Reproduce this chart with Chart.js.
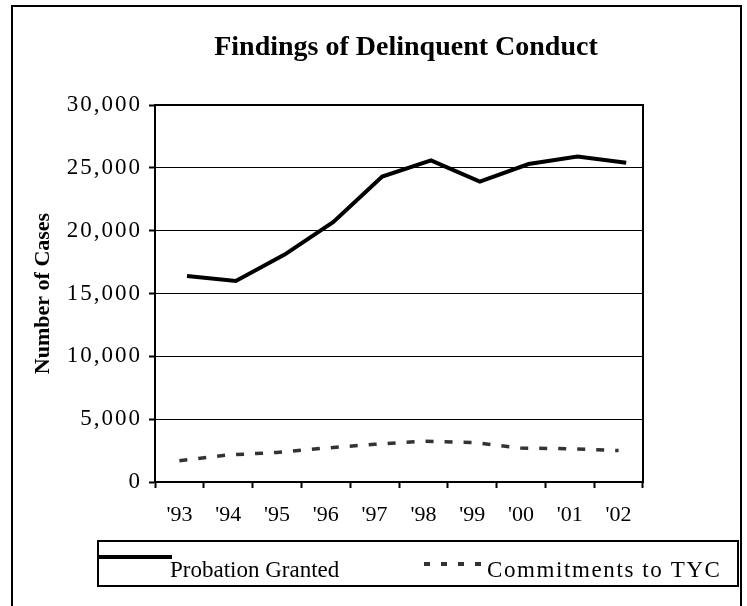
<!DOCTYPE html>
<html lang="en">
<head>
    <meta charset="UTF-8">
    <title>Findings of Delinquent Conduct</title>
    <script src="https://cdn.jsdelivr.net/npm/chart.js"></script>
    <style>
        html, body { margin: 0; padding: 0; background: #fff; }
        .chart-container { position: relative; width: 747px; height: 606px; }
    </style>
</head>
<body>
    <div class="chart-container">
        <canvas id="delinquentChart"></canvas>
    </div>

    <script>
        // --- chart data ---
        const chartTitle = 'Findings of Delinquent Conduct';
        const yAxisTitle = 'Number of Cases';
        const years = ["'93", "'94", "'95", "'96", "'97", "'98", "'99", "'00", "'01", "'02"];
        const probationGranted = [16400, 16000, 18100, 20700, 24300, 25600, 23900, 25300, 25900, 25400];
        const commitmentsToTYC = [1700, 2150, 2350, 2700, 3000, 3250, 3150, 2700, 2650, 2500];
        const yMax = 30000;
        const yStep = 5000;

        const serif = '"Liberation Serif", "Times New Roman", serif';

        // the solid line sits a bit right of the category centres in the original,
        // so it uses a hidden linear axis over the same area
        const toPoints = values => values.map((v, i) => ({ x: i, y: v }));

        // frame, plot border, title and boxed legend
        const decorPlugin = {
            id: 'decor',
            afterDraw(chart) {
                const ctx = chart.ctx;
                const area = chart.chartArea;
                ctx.save();

                // outer frame
                ctx.strokeStyle = '#000';
                ctx.lineWidth = 2;
                ctx.strokeRect(12, 6, 729, 700);

                // plot area border
                ctx.strokeRect(area.left, area.top, area.right - area.left, area.bottom - area.top);

                // title
                ctx.fillStyle = '#000';
                ctx.font = 'bold 28px ' + serif;
                ctx.textAlign = 'center';
                ctx.textBaseline = 'alphabetic';
                ctx.fillText(chartTitle, 406, 55);

                // legend box
                ctx.lineWidth = 2;
                ctx.strokeRect(98, 541, 640, 45);

                const slots = [
                    { x0: 97, x1: 172, ly: 557, tx: 170, dash: [], spacing: '0px' },
                    { x0: 424, x1: 484, ly: 564, tx: 487, dash: [6, 11], spacing: '1.6px' }
                ];
                ctx.font = '23px ' + serif;
                ctx.textAlign = 'left';
                chart.data.datasets.forEach((ds, i) => {
                    const s = slots[i];
                    ctx.beginPath();
                    ctx.strokeStyle = ds.borderColor;
                    ctx.lineWidth = 4;
                    ctx.setLineDash(s.dash);
                    ctx.moveTo(s.x0, s.ly);
                    ctx.lineTo(s.x1, s.ly);
                    ctx.stroke();
                    ctx.setLineDash([]);
                    ctx.letterSpacing = s.spacing;
                    ctx.fillText(ds.label, s.tx, 577);
                });
                ctx.letterSpacing = '0px';
                ctx.restore();
            }
        };

        const ctx = document.getElementById('delinquentChart').getContext('2d');
        new Chart(ctx, {
            type: 'line',
            data: {
                labels: years,
                datasets: [
                    {
                        label: 'Probation Granted',
                        data: toPoints(probationGranted),
                        xAxisID: 'xd',
                        borderColor: '#000000',
                        borderWidth: 4,
                        pointRadius: 0,
                        tension: 0,
                        fill: false
                    },
                    {
                        label: 'Commitments to TYC',
                        data: commitmentsToTYC,
                        xAxisID: 'x',
                        borderColor: '#333333',
                        borderWidth: 3.5,
                        borderDash: [8, 11],
                        pointRadius: 0,
                        tension: 0,
                        fill: false
                    }
                ]
            },
            options: {
                responsive: true,
                maintainAspectRatio: false,
                animation: false,
                locale: 'en-US',
                layout: { padding: { left: 0, right: 104, top: 105, bottom: 84 } },
                plugins: {
                    legend: { display: false },
                    title: { display: false },
                    tooltip: { enabled: false }
                },
                scales: {
                    x: {
                        type: 'category',
                        offset: true,
                        grid: {
                            display: true,
                            offset: true,
                            drawOnChartArea: false,
                            drawTicks: true,
                            tickLength: 6,
                            tickWidth: 2,
                            tickColor: '#000'
                        },
                        border: { display: true, color: '#000', width: 2 },
                        ticks: {
                            color: '#000',
                            padding: 14,
                            maxRotation: 0,
                            font: { family: serif, size: 22 }
                        },
                        afterFit(scale) { scale.height = 40; }
                    },
                    xd: {
                        type: 'linear',
                        display: false,
                        min: -0.656,
                        max: 9.344
                    },
                    y: {
                        min: 0,
                        max: yMax,
                        ticks: {
                            stepSize: yStep,
                            color: '#000',
                            padding: 7,
                            font: { family: serif, size: 23 }
                        },
                        grid: {
                            color: '#000',
                            lineWidth: 1,
                            drawTicks: true,
                            tickLength: 6,
                            tickWidth: 2,
                            tickColor: '#000'
                        },
                        border: { display: true, color: '#000', width: 2 },
                        title: {
                            display: true,
                            text: yAxisTitle,
                            color: '#000',
                            font: { family: serif, size: 22, weight: 'bold', lineHeight: 1.2 },
                            padding: { top: 30, bottom: 0 }
                        },
                        afterFit(scale) { scale.width = 155; },
                        afterBuildTicks(scale) {
                            // the y labels in the original are set a little wider
                            if (scale._spaced) return;
                            scale._spaced = true;
                            const drawLabels = scale.drawLabels.bind(scale);
                            scale.drawLabels = function (area) {
                                const c = this.ctx;
                                const prev = c.letterSpacing;
                                c.letterSpacing = '2px';
                                drawLabels(area);
                                c.letterSpacing = prev;
                            };
                        }
                    }
                }
            },
            plugins: [decorPlugin]
        });
    </script>
</body>
</html>
